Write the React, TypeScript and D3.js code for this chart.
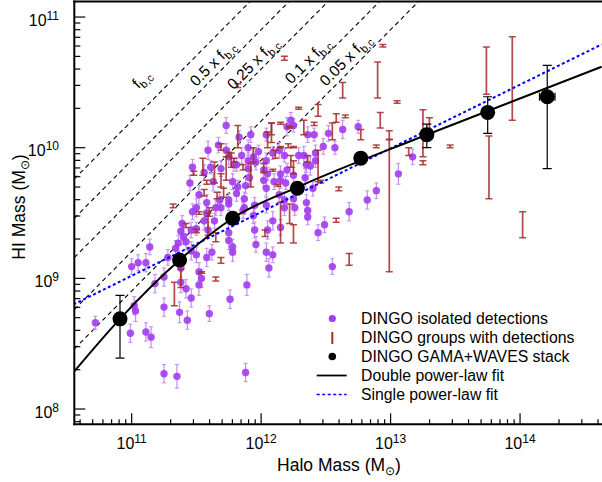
import React, { useEffect, useRef } from "react";
import * as d3 from "d3";

// all masses are log10(M / Msun)
// isolated detections: [halo, HI, error in dex]
const isolated: [number, number, number][] = [
  [11.73, 10.17, 0.06], [11.83, 10.08, 0.05], [12.23, 10.21, 0.06], [12.2, 10.16, 0.07], [12.25, 10.17, 0.05],
  [11.92, 10.1, 0.06], [12.04, 10.1, 0.05], [12.36, 10.1, 0.06], [12.41, 10.1, 0.05], [12.52, 10.11, 0.06],
  [12.63, 10.14, 0.07], [12.75, 10.16, 0.05], [11.67, 10.02, 0.06], [11.59, 9.98, 0.07], [11.73, 9.98, 0.05],
  [11.75, 9.93, 0.06], [11.85, 9.94, 0.06], [12.09, 9.96, 0.05], [12.29, 9.94, 0.06], [12.33, 9.94, 0.07],
  [12.42, 9.96, 0.06], [12.48, 10.01, 0.06], [12.57, 10.0, 0.05], [11.9, 10.0, 0.06], [11.98, 9.97, 0.05],
  [12.14, 9.98, 0.06], [12.18, 9.94, 0.05], [13.17, 9.93, 0.06], [11.94, 9.93, 0.06], [11.47, 9.85, 0.06],
  [11.61, 9.85, 0.05], [11.56, 9.81, 0.06], [11.63, 9.74, 0.07], [11.45, 9.73, 0.06], [11.81, 9.87, 0.05],
  [11.9, 9.9, 0.06], [11.9, 9.84, 0.05], [11.96, 9.89, 0.06], [12.02, 9.83, 0.06], [12.05, 9.8, 0.05],
  [12.15, 9.8, 0.06], [12.2, 9.83, 0.05], [12.25, 9.79, 0.06], [12.35, 9.87, 0.06], [12.38, 9.86, 0.07],
  [11.78, 9.74, 0.06], [11.82, 9.7, 0.05], [11.88, 9.71, 0.06], [11.91, 9.77, 0.06], [12.02, 9.75, 0.05],
  [12.15, 9.75, 0.06], [12.19, 9.73, 0.05], [12.04, 9.69, 0.06], [12.34, 9.77, 0.07], [12.4, 9.69, 0.06],
  [11.81, 9.65, 0.06], [11.87, 9.61, 0.05], [12.14, 9.64, 0.06], [12.18, 9.6, 0.06], [12.25, 9.61, 0.05],
  [11.52, 9.64, 0.07], [11.68, 9.6, 0.06], [11.75, 9.6, 0.05], [11.69, 9.84, 0.06], [11.79, 9.87, 0.05],
  [12.1, 9.74, 0.06], [13.06, 9.8, 0.08], [12.89, 9.67, 0.06], [12.82, 9.6, 0.07], [12.42, 9.9, 0.05],
  [12.04, 9.9, 0.06], [11.58, 9.58, 0.06], [11.5, 9.54, 0.07], [11.65, 9.54, 0.06], [11.58, 9.5, 0.05],
  [11.47, 9.51, 0.06], [11.95, 9.56, 0.06], [11.87, 9.54, 0.05], [12.35, 9.58, 0.06], [12.36, 9.52, 0.07],
  [12.26, 9.54, 0.06], [12.36, 9.47, 0.06], [12.09, 9.44, 0.07], [12.44, 9.35, 0.06], [11.69, 9.54, 0.06],
  [11.75, 9.57, 0.05], [11.94, 9.48, 0.06], [12.04, 9.56, 0.06], [11.64, 9.44, 0.06], [11.56, 9.44, 0.07],
  [11.59, 9.37, 0.06], [11.75, 9.35, 0.06], [11.38, 9.36, 0.07], [11.4, 9.32, 0.06], [11.46, 9.37, 0.06],
  [11.5, 9.38, 0.05], [11.39, 9.42, 0.06], [11.95, 9.37, 0.06], [12.05, 9.37, 0.07], [12.15, 9.39, 0.06],
  [12.68, 9.51, 0.07], [12.49, 9.41, 0.06], [12.18, 9.54, 0.06], [11.86, 9.52, 0.06], [11.75, 9.29, 0.07],
  [11.78, 9.24, 0.06], [11.78, 9.2, 0.07], [11.62, 9.2, 0.06], [11.58, 9.16, 0.07], [11.96, 9.26, 0.06],
  [12.04, 9.2, 0.07], [12.09, 9.18, 0.06], [12.06, 9.08, 0.07], [11.14, 9.24, 0.06], [11.0, 9.09, 0.06],
  [11.05, 9.12, 0.06], [11.11, 9.12, 0.07], [11.36, 9.27, 0.06], [11.34, 9.23, 0.06], [11.42, 9.28, 0.06],
  [11.46, 9.21, 0.07], [11.5, 9.18, 0.06], [11.38, 9.08, 0.07], [11.38, 8.97, 0.08], [11.42, 8.92, 0.07],
  [11.46, 8.85, 0.07], [11.52, 8.95, 0.08], [11.52, 9.05, 0.07], [11.28, 9.16, 0.06], [11.89, 8.95, 0.08],
  [11.76, 8.84, 0.07], [11.54, 9.0, 0.07], [11.25, 9.01, 0.07], [11.18, 8.96, 0.07], [12.55, 9.09, 0.06],
  [10.72, 8.66, 0.05], [10.99, 8.58, 0.07], [11.02, 8.79, 0.07], [11.03, 8.75, 0.08], [11.11, 8.59, 0.07],
  [11.15, 8.55, 0.08], [11.25, 8.78, 0.07], [11.25, 8.27, 0.07], [11.35, 8.25, 0.09], [11.37, 8.74, 0.08],
  [11.43, 8.68, 0.07], [11.6, 8.73, 0.06], [11.88, 8.28, 0.07],
];

// groups with detections: [halo, HI low, HI high]
const groups: [number, number, number][] = [
  [12.18, 10.67, 10.7], [11.82, 10.46, 10.49], [12.29, 10.295, 10.31], [11.82, 10.0, 10.17], [12.08, 10.1, 10.19],
  [12.05, 10.0, 10.12], [12.15, 10.18, 10.195], [12.22, 10.15, 10.165], [12.33, 10.1, 10.21], [12.44, 10.24, 10.33],
  [12.41, 10.17, 10.195], [12.58, 10.195, 10.26], [12.65, 10.23, 10.25], [12.55, 10.06, 10.19], [12.63, 10.38, 10.5],
  [12.94, 10.77, 10.79], [12.9, 10.38, 10.655], [13.05, 10.34, 10.36], [12.92, 10.15, 10.27], [12.77, 10.06, 10.14],
  [12.89, 10.0, 10.02], [12.99, 9.05, 10.13], [12.99, 10.06, 10.065], [13.14, 9.94, 10.0], [13.25, 9.93, 10.29],
  [13.3, 10.12, 10.23], [13.25, 9.87, 9.9], [13.46, 10.0, 10.02], [13.74, 10.41, 10.77], [13.94, 10.21, 10.85],
  [13.76, 9.61, 10.09], [14.02, 9.31, 9.51], [12.6, 9.67, 9.7], [12.58, 9.43, 9.46], [12.44, 9.74, 9.98],
  [12.46, 9.73, 9.75], [12.68, 9.1, 9.19], [11.94, 9.89, 10.0], [12.15, 10.0, 10.01], [12.25, 10.0, 10.01],
  [12.25, 9.8, 9.9], [11.79, 9.89, 9.92], [11.86, 9.83, 9.87], [11.92, 9.7, 9.88], [12.02, 9.81, 9.88],
  [12.09, 9.82, 9.835], [12.13, 9.705, 9.72], [11.55, 9.79, 9.92], [11.48, 9.79, 9.82], [11.32, 9.54, 9.57],
  [11.58, 9.72, 9.75], [11.56, 9.63, 9.68], [11.69, 9.7, 9.8], [11.71, 9.62, 9.69], [11.6, 9.475, 9.54],
  [11.66, 9.61, 9.66], [11.75, 9.93, 9.965], [11.69, 9.98, 10.03], [11.42, 9.39, 9.42], [11.5, 9.35, 9.375],
  [11.38, 8.93, 9.07], [11.33, 8.79, 8.97], [11.54, 9.04, 9.05], [11.65, 8.98, 9.01], [11.69, 9.115, 9.16],
  [12.15, 9.27, 9.58], [12.22, 9.42, 9.57], [12.25, 9.27, 9.41], [12.03, 9.32, 9.37], [11.59, 9.33, 9.5],
  [11.65, 9.28, 9.35], [11.73, 9.75, 9.93], [11.64, 9.73, 9.89], [11.77, 9.85, 9.96], [12.23, 9.85, 9.94],
  [12.11, 9.92, 9.98], [12.08, 10.04, 10.19], [12.36, 9.89, 9.94], [12.21, 10.0, 10.03], [11.52, 9.49, 9.51],
];

// GAMA+WAVES stack: [halo, HI, HI low, HI high, halo error]
const stack: [number, number, number, number, number][] = [
  [10.91, 8.69, 8.39, 8.87, 0],
  [11.37, 9.14, 9.1, 9.18, 0],
  [11.78, 9.46, 9.43, 9.49, 0],
  [12.28, 9.69, 9.66, 9.72, 0],
  [12.77, 9.92, 9.89, 9.95, 0],
  [13.28, 10.1, 10.0, 10.18, 0],
  [13.75, 10.27, 10.11, 10.39, 0],
  [14.21, 10.39, 9.84, 10.63, 0.06],
];

const doubleFit: [number, number][] = [
  [10.55, 8.28], [10.91, 8.69], [11.37, 9.14], [11.78, 9.46], [12.31, 9.71], [13.23, 10.08], [14.63, 10.62],
];
const singleFit: [number, number][] = [[10.55, 8.8], [14.63, 10.79]];

const fbc = 0.16;
const fractions = [1, 0.5, 0.25, 0.1, 0.05];
const fractionText = ["f", "0.5 x f", "0.25 x f", "0.1 x f", "0.05 x f"];

const xMajor = [11, 12, 13, 14];
const yMajor = [8, 9, 10, 11];

const legendLabels = [
  "DINGO isolated detections",
  "DINGO groups with detections",
  "DINGO GAMA+WAVES stack",
  "Double power-law fit",
  "Single power-law fit",
];

const PURPLE = "#a23cf0";
const PURPLE_ERR = "#c48cf2";
const BROWN = "#a52a2a";
const FONT = "'Liberation Sans', Arial, Helvetica, sans-serif";

const App = () => {
  const svgRef = useRef<SVGSVGElement>(null);
  const width = 602;
  const height = 482;

  useEffect(() => {
    const left = 74.3;
    const right = 602;
    const top = 1.5;
    const bottom = 424.3;

    const svg = d3.select(svgRef.current).attr("width", width).attr("height", height);
    svg.selectAll("*").remove();

    const x = d3.scaleLog().domain([10 ** 10.557, 10 ** 14.633]).range([left, right]);
    const y = d3.scaleLog().domain([10 ** 7.883, 10 ** 11.119]).range([bottom, top]);
    const X = (l: number) => x(10 ** l);
    const Y = (l: number) => y(10 ** l);

    svg.append("defs").append("clipPath").attr("id", "plot")
      .append("rect").attr("x", left).attr("y", top).attr("width", right - left).attr("height", bottom - top);

    const plot = svg.append("g").attr("clip-path", "url(#plot)");

    // baryon fraction lines
    const [lo, hi] = x.domain().map(Math.log10);
    fractions.forEach((f) => {
      const off = Math.log10(f * fbc);
      plot.append("line")
        .attr("x1", X(lo)).attr("y1", Y(lo + off))
        .attr("x2", X(hi)).attr("y2", Y(hi + off))
        .attr("stroke", "#000").attr("stroke-width", 1.1)
        .attr("stroke-dasharray", "4.5,3.5");
    });

    // isolated detections
    isolated.forEach(([m, h, e]) => {
      const cx = X(m);
      plot.append("line").attr("x1", cx).attr("x2", cx).attr("y1", Y(h - e)).attr("y2", Y(h + e))
        .attr("stroke", PURPLE_ERR).attr("stroke-width", 1.2);
      [h - e, h + e].forEach((v) => {
        plot.append("line").attr("x1", cx - 2).attr("x2", cx + 2).attr("y1", Y(v)).attr("y2", Y(v))
          .attr("stroke", PURPLE_ERR).attr("stroke-width", 1);
      });
    });
    isolated.forEach(([m, h]) => {
      plot.append("circle").attr("cx", X(m)).attr("cy", Y(h)).attr("r", 3.7)
        .attr("fill", PURPLE).attr("fill-opacity", 0.9);
    });

    // groups
    groups.forEach(([m, a, b]) => {
      const cx = X(m);
      const g = plot.append("g").attr("stroke", BROWN).attr("stroke-opacity", 0.85);
      g.append("line").attr("x1", cx).attr("x2", cx).attr("y1", Y(a)).attr("y2", Y(b)).attr("stroke-width", 1.7);
      [a, b].forEach((v) => {
        g.append("line").attr("x1", cx - 3.5).attr("x2", cx + 3.5).attr("y1", Y(v)).attr("y2", Y(v))
          .attr("stroke-width", 1.5);
      });
    });

    // fits
    const line = d3.line<[number, number]>().x((d) => X(d[0])).y((d) => Y(d[1])).curve(d3.curveMonotoneX);
    plot.append("path").attr("d", line(singleFit)).attr("fill", "none")
      .attr("stroke", "#0000ff").attr("stroke-width", 2).attr("stroke-dasharray", "3,2.5");
    plot.append("path").attr("d", line(doubleFit)).attr("fill", "none")
      .attr("stroke", "#000").attr("stroke-width", 2);

    // stack
    stack.forEach(([m, h, a, b, xe]) => {
      const cx = X(m);
      plot.append("line").attr("x1", cx).attr("x2", cx).attr("y1", Y(a)).attr("y2", Y(b))
        .attr("stroke", "#000").attr("stroke-width", 1.2);
      [a, b].forEach((v) => {
        plot.append("line").attr("x1", cx - 4.5).attr("x2", cx + 4.5).attr("y1", Y(v)).attr("y2", Y(v))
          .attr("stroke", "#000").attr("stroke-width", 1.2);
      });
      if (xe > 0) {
        const cy = Y(h);
        plot.append("line").attr("x1", X(m - xe)).attr("x2", X(m + xe)).attr("y1", cy).attr("y2", cy)
          .attr("stroke", "#000").attr("stroke-width", 1.2);
        [m - xe, m + xe].forEach((v) => {
          plot.append("line").attr("x1", X(v)).attr("x2", X(v)).attr("y1", cy - 4).attr("y2", cy + 4)
            .attr("stroke", "#000").attr("stroke-width", 1.2);
        });
      }
      plot.append("circle").attr("cx", cx).attr("cy", Y(h)).attr("r", 7.5).attr("fill", "#000");
    });

    // fraction labels: position along each line and distance above it
    const labelPos = [
      [11.2, 23], [11.684, 11], [11.99, 10], [12.41, 9.5], [12.71, 11],
    ];
    fractions.forEach((f, i) => {
      const [m, d] = labelPos[i];
      const px = X(m) - d / Math.SQRT2;
      const py = Y(m + Math.log10(f * fbc)) - d / Math.SQRT2;
      const t = svg.append("text")
        .attr("transform", `translate(${px},${py}) rotate(-45.3)`)
        .attr("text-anchor", "middle").attr("dy", "0.35em")
        .attr("font-family", FONT).attr("font-size", 15.5).attr("fill", "#000");
      t.append("tspan").text(fractionText[i]);
      t.append("tspan").attr("dy", 4).attr("font-size", 11).text("b,c");
    });

    // axes frame
    const axis = svg.append("g").attr("stroke", "#000");
    axis.append("line").attr("x1", left).attr("x2", left).attr("y1", top - 1).attr("y2", bottom + 1).attr("stroke-width", 2);
    axis.append("line").attr("x1", left - 1).attr("x2", right).attr("y1", bottom).attr("y2", bottom).attr("stroke-width", 2);
    axis.append("line").attr("x1", left - 1).attr("x2", right).attr("y1", top).attr("y2", top).attr("stroke-width", 2);

    // ticks (inside)
    for (let e = 10; e <= 14; e++) {
      for (let k = 1; k <= 9; k++) {
        const v = k * 10 ** e;
        if (v < x.domain()[0] || v > x.domain()[1]) continue;
        const len = k === 1 ? 11 : 5;
        axis.append("line").attr("x1", x(v)).attr("x2", x(v)).attr("y1", bottom).attr("y2", bottom - len)
          .attr("stroke-width", 1.2);
      }
    }
    for (let e = 7; e <= 11; e++) {
      for (let k = 1; k <= 9; k++) {
        const v = k * 10 ** e;
        if (v < y.domain()[0] || v > y.domain()[1]) continue;
        const len = k === 1 ? 11 : 6;
        axis.append("line").attr("x1", left).attr("x2", left + len).attr("y1", y(v)).attr("y2", y(v))
          .attr("stroke-width", 1.2);
      }
    }

    const txt = (sel: any) => sel.attr("font-family", FONT).attr("fill", "#000");

    xMajor.forEach((e) => {
      const t = txt(svg.append("text")).attr("x", X(e)).attr("y", 449).attr("text-anchor", "middle")
        .attr("font-size", 16);
      t.append("tspan").text("10");
      t.append("tspan").attr("dy", -6).attr("font-size", 12).text(String(e));
    });
    yMajor.forEach((e) => {
      const t = txt(svg.append("text")).attr("x", 59).attr("y", Y(e) + 8.5).attr("text-anchor", "end")
        .attr("font-size", 16);
      t.append("tspan").text("10");
      t.append("tspan").attr("dy", -6).attr("font-size", 12).text(String(e));
    });

    const massLabel = (t: any, name: string) => {
      t.append("tspan").text(name + " (M");
      t.append("tspan").attr("dy", 4).attr("font-size", 12).text("\u2299");
      t.append("tspan").attr("dy", -4).text(")");
    };
    massLabel(txt(svg.append("text")).attr("x", 339).attr("y", 471).attr("text-anchor", "middle").attr("font-size", 17.5), "Halo Mass");
    massLabel(txt(svg.append("text")).attr("transform", "translate(24.5,207) rotate(-90)")
      .attr("text-anchor", "middle").attr("font-size", 17.5), "HI Mass");

    // legend
    const lg = svg.append("g");
    const rowY = (i: number) => 324 + i * 19;
    const sx = 332.3;
    lg.append("circle").attr("cx", sx).attr("cy", rowY(0) - 5.5).attr("r", 3.6).attr("fill", PURPLE);
    lg.append("line").attr("x1", sx).attr("x2", sx).attr("y1", rowY(1) - 11).attr("y2", rowY(1) + 1)
      .attr("stroke", BROWN).attr("stroke-width", 2);
    lg.append("circle").attr("cx", sx).attr("cy", rowY(2) - 5.5).attr("r", 3.8).attr("fill", "#000");
    lg.append("line").attr("x1", 316.7).attr("x2", 346.7).attr("y1", rowY(3) - 5.5).attr("y2", rowY(3) - 5.5)
      .attr("stroke", "#000").attr("stroke-width", 1.8);
    lg.append("line").attr("x1", 316.7).attr("x2", 346.7).attr("y1", rowY(4) - 5.5).attr("y2", rowY(4) - 5.5)
      .attr("stroke", "#0000ff").attr("stroke-width", 1.5).attr("stroke-dasharray", "3,2.5");
    legendLabels.forEach((l, i) => {
      txt(lg.append("text")).attr("x", 361).attr("y", rowY(i)).attr("font-size", 15.8).text(l);
    });
  }, []);

  return (
    <svg ref={svgRef} style={{ position: "absolute", left: 0, top: 0, background: "#fff" }}></svg>
  );
};

export default App;
